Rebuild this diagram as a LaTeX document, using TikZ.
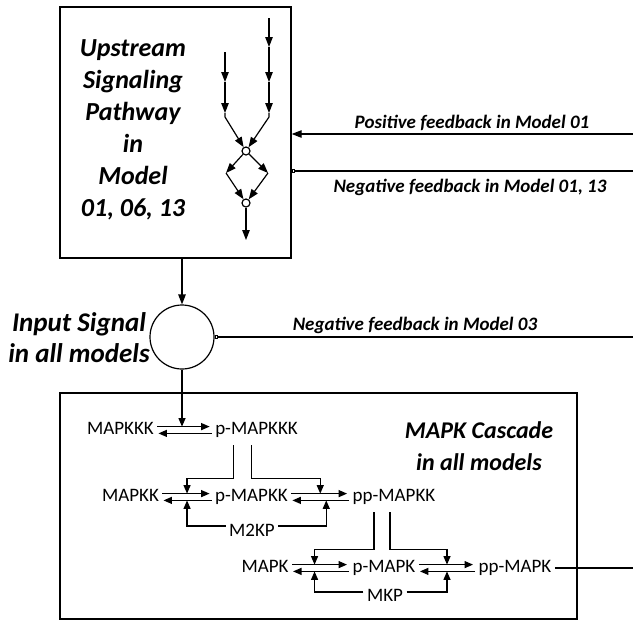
\documentclass[tikz,border=0pt]{standalone}
\usepackage{fontspec}
\setmainfont{Carlito}
\usetikzlibrary{arrows.meta,positioning,calc}

\begin{document}
\begin{tikzpicture}[
  x=1pt, y=-1pt,
  line width=1.2pt,
  frame/.style={draw, line width=1.4pt, inner sep=0pt},
  title/.style={font=\fontsize{26}{32}\selectfont\bfseries\itshape, align=center},
  fb/.style={font=\fontsize{19}{22}\selectfont\bfseries\itshape},
  species/.style={font=\fontsize{19}{22}\selectfont, text height=12pt, text depth=3pt,
                  inner xsep=3pt, inner ysep=1pt},
  junc/.style={circle, draw, fill=white, minimum size=8pt, inner sep=0pt},
  arrow/.style={-{Triangle[length=10pt,width=7.5pt]}},
  arr/.style={-{Triangle[length=8.5pt,width=7pt]}},
  inhib/.style={-{Square[open,length=3.5pt,width=3.5pt]}}
]
  \useasboundingbox (0,0) rectangle (633,622);

  % upstream pathway
  \node[frame, minimum width=231pt, minimum height=251pt] (upstream) at (175.5,132.5) {};
  \node[title] (uptitle) at (133,130) {Upstream\\Signaling\\Pathway\\in\\Model\\01, 06, 13};

  \coordinate (a0) at (225,52);
  \coordinate (a1) at (225,82);
  \coordinate (a2) at (225,113);
  \coordinate (a3) at (225,117);
  \coordinate (b0) at (269,18);
  \coordinate (b1) at (269,47);
  \coordinate (b2) at (269,82);
  \coordinate (b3) at (269,113);
  \coordinate (b4) at (269,117);
  \node[junc] (j1) at (246,151) {};
  \coordinate (d1) at (226,173);
  \coordinate (d2) at (268,173);
  \node[junc] (j2) at (246,203) {};
  \coordinate (e0) at (246,240);

  \draw[arrow] (a0) -- (a1);
  \draw[arrow] (a1) -- (a2);
  \draw[arrow] (a2) -- (a3) -- (j1);
  \draw[arrow] (b0) -- (b1);
  \draw[arrow] (b1) -- (b2);
  \draw[arrow] (b2) -- (b3);
  \draw[arrow] (b3) -- (b4) -- (j1);
  \draw[arrow] (j1) -- (d1);
  \draw[arrow] (j1) -- (d2);
  \draw[arrow] (d1) -- (j2);
  \draw[arrow] (d2) -- (j2);
  \draw[arrow] (j2) -- (e0);

  % feedback into the upstream box
  \coordinate (pfin) at (633,134);
  \coordinate (nfin) at (633,171);
  \draw[arrow] (pfin) -- (pfin -| upstream.east);
  \draw[inhib] (nfin) -- (nfin -| upstream.east);
  \node[fb] (pflab) at (472,123) {Positive feedback in Model 01};
  \node[fb] (nflab) at (470,187) {Negative feedback in Model 01, 13};

  % input signal
  \node[circle, draw, minimum size=64pt, inner sep=0pt] (signal) at (182,337) {};
  \node[title, font=\fontsize{27}{31}\selectfont\bfseries\itshape] (sigtext) at (79,338) {Input Signal\\in all models};
  \draw[arrow] (signal |- upstream.south) -- (signal);
  \coordinate (n3in) at (633,337);
  \draw[inhib] (n3in) -- (signal.east);
  \node[fb] (n3lab) at (415,325) {Negative feedback in Model 03};

  % MAPK cascade
  \node[frame, minimum width=517pt, minimum height=226pt] (cascade) at (318.5,506) {};
  \node[title, font=\fontsize{24}{32}\selectfont\bfseries\itshape] (castitle) at (479,446) {MAPK Cascade\\in all models};

  \node[species] (mkkk)  at (120.5,430) {MAPKKK};
  \node[species] (pmkkk) at (256.5,430) {p-MAPKKK};
  \node[species] (mkk)   at (130.5,497) {MAPKK};
  \node[species] (pmkk)  at (251.5,497) {p-MAPKK};
  \node[species] (ppmkk) at (394,497)   {pp-MAPKK};
  \node[species] (mk)    at (265,568)   {MAPK};
  \node[species] (pmk)   at (384,568)   {p-MAPK};
  \node[species] (ppmk)  at (515,568)   {pp-MAPK};
  \node[species] (m2kp)  at (252,532)   {M2KP};
  \node[species] (mkp)   at (385,597)   {MKP};

  % reversible steps
  \foreach \u/\v/\r in {mkkk/pmkkk/r1, mkk/pmkk/r2a, pmkk/ppmkk/r2b, mk/pmk/r3a, pmk/ppmk/r3b} {
    \draw[arr, shorten >=2pt] ([yshift=3.4pt]\u.east) -- ([yshift=3.4pt]\v.west);
    \draw[arr, shorten >=1pt] ([yshift=-3.4pt]\v.west) -- ([yshift=-3.4pt]\u.east);
    \coordinate (\r) at ($(\u.east)!0.5!(\v.west)$);
    \coordinate (\r-t) at ([yshift=3.4pt]\r);
  }

  % catalysis
  \draw[arr] (signal) -- (signal |- r1-t);
  \draw[arr] ([xshift=-23pt,yshift=-6pt]pmkkk.south) -- ++(0,33) -| ([yshift=3.4pt]r2a);
  \draw[arr] ([xshift=-5pt,yshift=-6pt]pmkkk.south) -- ++(0,33) -| ([yshift=3.4pt]r2b);
  \draw[arr] ([yshift=6pt]m2kp.west) -| ([yshift=-3.4pt]r2a);
  \draw[arr] ([yshift=6pt]m2kp.east) -| ([xshift=6pt,yshift=-3.4pt]r2b);
  \draw[arr] ([xshift=-20pt,yshift=-6pt]ppmkk.south) -- ++(0,37) -| ([xshift=-6pt,yshift=3.4pt]r3a);
  \draw[arr] ([xshift=-4pt,yshift=-6pt]ppmkk.south) -- ++(0,37) -| ([yshift=3.4pt]r3b);
  \draw[arr] ([yshift=5pt]mkp.west) -| ([xshift=-6pt,yshift=-3.4pt]r3a);
  \draw[arr] ([yshift=5pt]mkp.east) -| ([yshift=-3.4pt]r3b);

  % output
  \coordinate (out) at (633,568);
  \draw (ppmk.east) -- (out);
\end{tikzpicture}
\end{document}
